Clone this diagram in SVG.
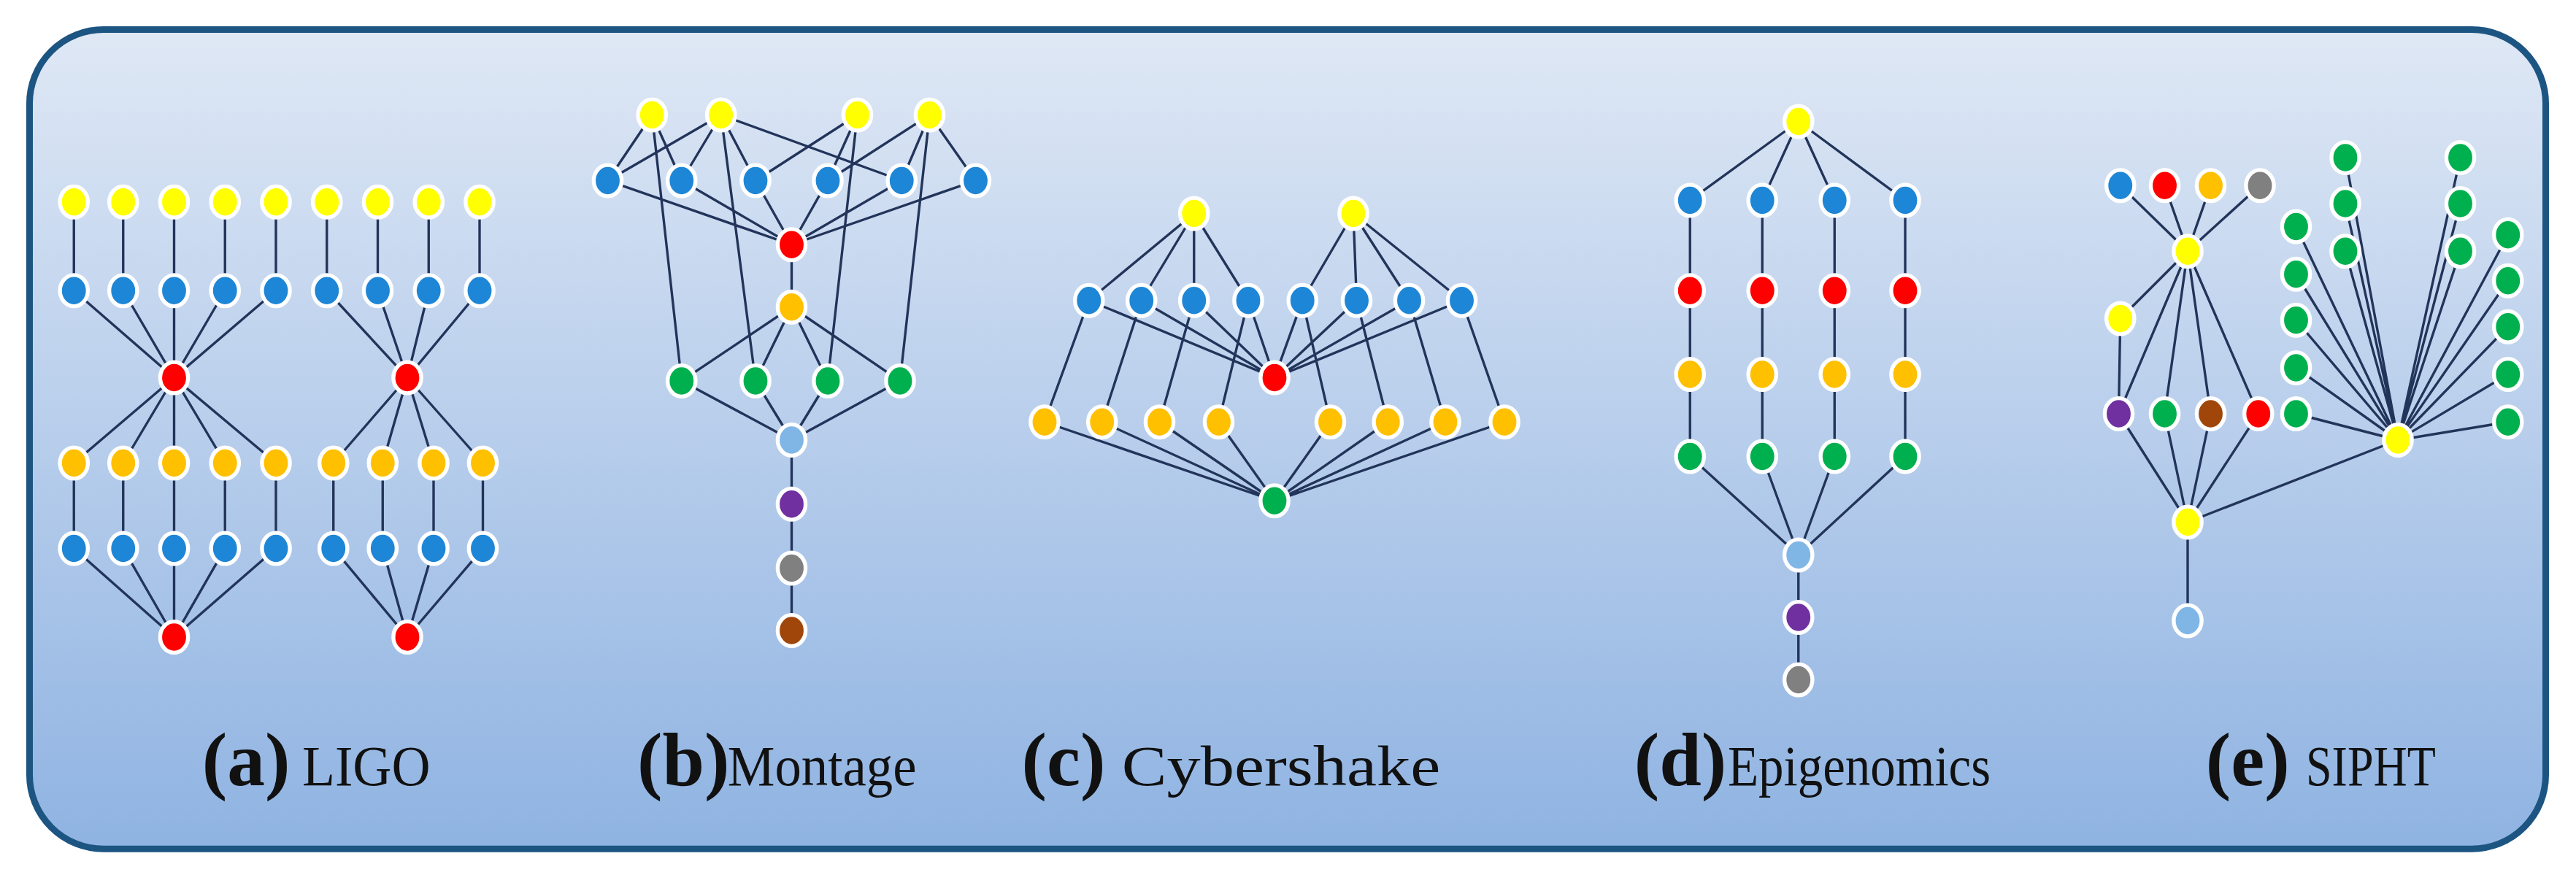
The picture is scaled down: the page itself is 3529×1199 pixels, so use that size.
<svg xmlns="http://www.w3.org/2000/svg" width="3529" height="1199" viewBox="0 0 3529 1199">
<style>
.e{fill:none;stroke:#22345a;stroke-width:1.5}
.d{stroke:#fff;stroke-width:2.4}
.y{fill:#ffff00}.b{fill:#1e86d6}.r{fill:#ff0000}.o{fill:#ffc000}.g{fill:#00b04f}.l{fill:#7fb6e6}.p{fill:#7030a0}.k{fill:#808080}.w{fill:#a0460a}
.lab{font-family:"Liberation Serif",serif;fill:#111}
.big{font-size:46px;font-weight:bold}
.nm{font-size:35px}
</style>
<defs>
<linearGradient id="bg" x1="0" y1="0" x2="0" y2="1"><stop offset="0" stop-color="#dfe8f5"/><stop offset="1" stop-color="#8fb3e2"/></linearGradient>
<ellipse id="n" rx="8.5" ry="9.5"/>
</defs>
<rect width="3529" height="1199" fill="#fff"/>
<g transform="scale(2.25)">
<rect x="18" y="18" width="1532" height="499" rx="45" fill="url(#bg)" stroke="#1d5582" stroke-width="4"/>
<g id="connectors">
<path class="e" d="M45 123V177M75 123V177M106 123V177M137 123V177M168 123V177M199 123V177M230 123V177M261 123V177M292 123V177
M45 177L106 230M75 177L106 230M106 177L106 230M137 177L106 230M168 177L106 230
M106 230L45 282M106 230L75 282M106 230L106 282M106 230L137 282M106 230L168 282
M45 282V334M75 282V334M106 282V334M137 282V334M168 282V334
M45 334L106 388M75 334L106 388M106 334L106 388M137 334L106 388M168 334L106 388
M199 177L248 230M230 177L248 230M261 177L248 230M292 177L248 230
M248 230L203 282M248 230L233 282M248 230L264 282M248 230L294 282
M203 282V334M233 282V334M264 282V334M294 282V334
M203 334L248 388M233 334L248 388M264 334L248 388M294 334L248 388"/>
<path class="e" d="M397 70L370 110M397 70L415 110M397 70L415 232
M439 70L370 110M439 70L415 110M439 70L460 110M439 70L549 110M439 70L460 232
M522 70L460 110M522 70L504 110M522 70L504 232
M566 70L504 110M566 70L549 110M566 70L594 110M566 70L548 232
M370 110L482 149M415 110L482 149M460 110L482 149M504 110L482 149M549 110L482 149M594 110L482 149
M482 149V187M482 187L415 232M482 187L460 232M482 187L504 232M482 187L548 232
M415 232L482 268M460 232L482 268M504 232L482 268M548 232L482 268M482 268V384"/>
<path class="e" d="M727 130L663 183M727 130L695 183M727 130L727 183M727 130L760 183
M824 130L793 183M824 130L826 183M824 130L858 183M824 130L890 183
M663 183L776 230M695 183L776 230M727 183L776 230M760 183L776 230M793 183L776 230M826 183L776 230M858 183L776 230M890 183L776 230
M663 183L636 257M695 183L671 257M727 183L706 257M760 183L742 257M793 183L810 257M826 183L845 257M858 183L880 257M890 183L916 257
M636 257L776 305M671 257L776 305M706 257L776 305M742 257L776 305M810 257L776 305M845 257L776 305M880 257L776 305M916 257L776 305"/>
<path class="e" d="M1095 74L1029 122M1095 74L1073 122M1095 74L1117 122M1095 74L1160 122
M1029 122V278M1073 122V278M1117 122V278M1160 122V278
M1029 278L1095 338M1073 278L1095 338M1117 278L1095 338M1160 278L1095 338M1095 338V414"/>
<path class="e" d="M1291 113L1332 153M1318 113L1332 153M1346 113L1332 153M1376 113L1332 153
M1332 153L1291 194M1332 153L1290 252M1332 153L1318 252M1332 153L1346 252M1332 153L1375 252M1291 194L1290 252
M1290 252L1332 318M1318 252L1332 318M1346 252L1332 318M1375 252L1332 318M1332 318V378M1332 318L1460 268
M1398 138L1460 268M1398 167L1460 268M1398 195L1460 268M1398 224L1460 268M1398 252L1460 268
M1428 96L1460 268M1428 124L1460 268M1428 153L1460 268
M1498 96L1460 268M1498 124L1460 268M1498 153L1460 268
M1527 143L1460 268M1527 171L1460 268M1527 199L1460 268M1527 228L1460 268M1527 257L1460 268"/>
</g>
<g id="ligo" class="d">
<g id="a-y"><use href="#n" x="45" y="123" class="y"/><use href="#n" x="75" y="123" class="y"/><use href="#n" x="106" y="123" class="y"/><use href="#n" x="137" y="123" class="y"/><use href="#n" x="168" y="123" class="y"/><use href="#n" x="199" y="123" class="y"/><use href="#n" x="230" y="123" class="y"/><use href="#n" x="261" y="123" class="y"/><use href="#n" x="292" y="123" class="y"/></g>
<g id="a-b1"><use href="#n" x="45" y="177" class="b"/><use href="#n" x="75" y="177" class="b"/><use href="#n" x="106" y="177" class="b"/><use href="#n" x="137" y="177" class="b"/><use href="#n" x="168" y="177" class="b"/><use href="#n" x="199" y="177" class="b"/><use href="#n" x="230" y="177" class="b"/><use href="#n" x="261" y="177" class="b"/><use href="#n" x="292" y="177" class="b"/></g>
<g id="a-r"><use href="#n" x="106" y="230" class="r"/><use href="#n" x="248" y="230" class="r"/><use href="#n" x="106" y="388" class="r"/><use href="#n" x="248" y="388" class="r"/></g>
<g id="a-o"><use href="#n" x="45" y="282" class="o"/><use href="#n" x="75" y="282" class="o"/><use href="#n" x="106" y="282" class="o"/><use href="#n" x="137" y="282" class="o"/><use href="#n" x="168" y="282" class="o"/><use href="#n" x="203" y="282" class="o"/><use href="#n" x="233" y="282" class="o"/><use href="#n" x="264" y="282" class="o"/><use href="#n" x="294" y="282" class="o"/></g>
<g id="a-b2"><use href="#n" x="45" y="334" class="b"/><use href="#n" x="75" y="334" class="b"/><use href="#n" x="106" y="334" class="b"/><use href="#n" x="137" y="334" class="b"/><use href="#n" x="168" y="334" class="b"/><use href="#n" x="203" y="334" class="b"/><use href="#n" x="233" y="334" class="b"/><use href="#n" x="264" y="334" class="b"/><use href="#n" x="294" y="334" class="b"/></g>
</g>
<g id="montage" class="d">
<use href="#n" x="397" y="70" class="y"/><use href="#n" x="439" y="70" class="y"/><use href="#n" x="522" y="70" class="y"/><use href="#n" x="566" y="70" class="y"/>
<use href="#n" x="370" y="110" class="b"/><use href="#n" x="415" y="110" class="b"/><use href="#n" x="460" y="110" class="b"/><use href="#n" x="504" y="110" class="b"/><use href="#n" x="549" y="110" class="b"/><use href="#n" x="594" y="110" class="b"/>
<use href="#n" x="482" y="149" class="r"/><use href="#n" x="482" y="187" class="o"/>
<use href="#n" x="415" y="232" class="g"/><use href="#n" x="460" y="232" class="g"/><use href="#n" x="504" y="232" class="g"/><use href="#n" x="548" y="232" class="g"/>
<use href="#n" x="482" y="268" class="l"/><use href="#n" x="482" y="307" class="p"/><use href="#n" x="482" y="346" class="k"/><use href="#n" x="482" y="384" class="w"/>
</g>
<g id="cybershake" class="d">
<use href="#n" x="727" y="130" class="y"/><use href="#n" x="824" y="130" class="y"/>
<use href="#n" x="663" y="183" class="b"/><use href="#n" x="695" y="183" class="b"/><use href="#n" x="727" y="183" class="b"/><use href="#n" x="760" y="183" class="b"/><use href="#n" x="793" y="183" class="b"/><use href="#n" x="826" y="183" class="b"/><use href="#n" x="858" y="183" class="b"/><use href="#n" x="890" y="183" class="b"/>
<use href="#n" x="776" y="230" class="r"/>
<use href="#n" x="636" y="257" class="o"/><use href="#n" x="671" y="257" class="o"/><use href="#n" x="706" y="257" class="o"/><use href="#n" x="742" y="257" class="o"/><use href="#n" x="810" y="257" class="o"/><use href="#n" x="845" y="257" class="o"/><use href="#n" x="880" y="257" class="o"/><use href="#n" x="916" y="257" class="o"/>
<use href="#n" x="776" y="305" class="g"/>
</g>
<g id="epigenomics" class="d">
<use href="#n" x="1095" y="74" class="y"/>
<use href="#n" x="1029" y="122" class="b"/><use href="#n" x="1073" y="122" class="b"/><use href="#n" x="1117" y="122" class="b"/><use href="#n" x="1160" y="122" class="b"/>
<use href="#n" x="1029" y="177" class="r"/><use href="#n" x="1073" y="177" class="r"/><use href="#n" x="1117" y="177" class="r"/><use href="#n" x="1160" y="177" class="r"/>
<use href="#n" x="1029" y="228" class="o"/><use href="#n" x="1073" y="228" class="o"/><use href="#n" x="1117" y="228" class="o"/><use href="#n" x="1160" y="228" class="o"/>
<use href="#n" x="1029" y="278" class="g"/><use href="#n" x="1073" y="278" class="g"/><use href="#n" x="1117" y="278" class="g"/><use href="#n" x="1160" y="278" class="g"/>
<use href="#n" x="1095" y="338" class="l"/><use href="#n" x="1095" y="376" class="p"/><use href="#n" x="1095" y="414" class="k"/>
</g>
<g id="sipht" class="d">
<use href="#n" x="1291" y="113" class="b"/><use href="#n" x="1318" y="113" class="r"/><use href="#n" x="1346" y="113" class="o"/><use href="#n" x="1376" y="113" class="k"/>
<use href="#n" x="1332" y="153" class="y"/><use href="#n" x="1291" y="194" class="y"/>
<use href="#n" x="1290" y="252" class="p"/><use href="#n" x="1318" y="252" class="g"/><use href="#n" x="1346" y="252" class="w"/><use href="#n" x="1375" y="252" class="r"/>
<use href="#n" x="1332" y="318" class="y"/><use href="#n" x="1332" y="378" class="l"/>
<use href="#n" x="1398" y="138" class="g"/><use href="#n" x="1398" y="167" class="g"/><use href="#n" x="1398" y="195" class="g"/><use href="#n" x="1398" y="224" class="g"/><use href="#n" x="1398" y="252" class="g"/>
<use href="#n" x="1428" y="96" class="g"/><use href="#n" x="1428" y="124" class="g"/><use href="#n" x="1428" y="153" class="g"/>
<use href="#n" x="1498" y="96" class="g"/><use href="#n" x="1498" y="124" class="g"/><use href="#n" x="1498" y="153" class="g"/>
<use href="#n" x="1527" y="143" class="g"/><use href="#n" x="1527" y="171" class="g"/><use href="#n" x="1527" y="199" class="g"/><use href="#n" x="1527" y="228" class="g"/><use href="#n" x="1527" y="257" class="g"/>
<use href="#n" x="1460" y="268" class="y"/>
</g>
<g id="labels" class="lab">
<text x="123" y="478" class="big">(a)</text><text x="184" y="478" class="nm" textLength="78" lengthAdjust="spacingAndGlyphs">LIGO</text>
<text x="388" y="478" class="big">(b)</text><text x="443" y="478" class="nm" textLength="115" lengthAdjust="spacingAndGlyphs">Montage</text>
<text x="622" y="478" class="big">(c)</text><text x="683" y="478" class="nm" textLength="194" lengthAdjust="spacingAndGlyphs">Cybershake</text>
<text x="995" y="478" class="big">(d)</text><text x="1052" y="478" class="nm" textLength="160" lengthAdjust="spacingAndGlyphs">Epigenomics</text>
<text x="1343" y="478" class="big">(e)</text><text x="1404" y="478" class="nm" textLength="79" lengthAdjust="spacingAndGlyphs">SIPHT</text>
</g>
</g>
</svg>
